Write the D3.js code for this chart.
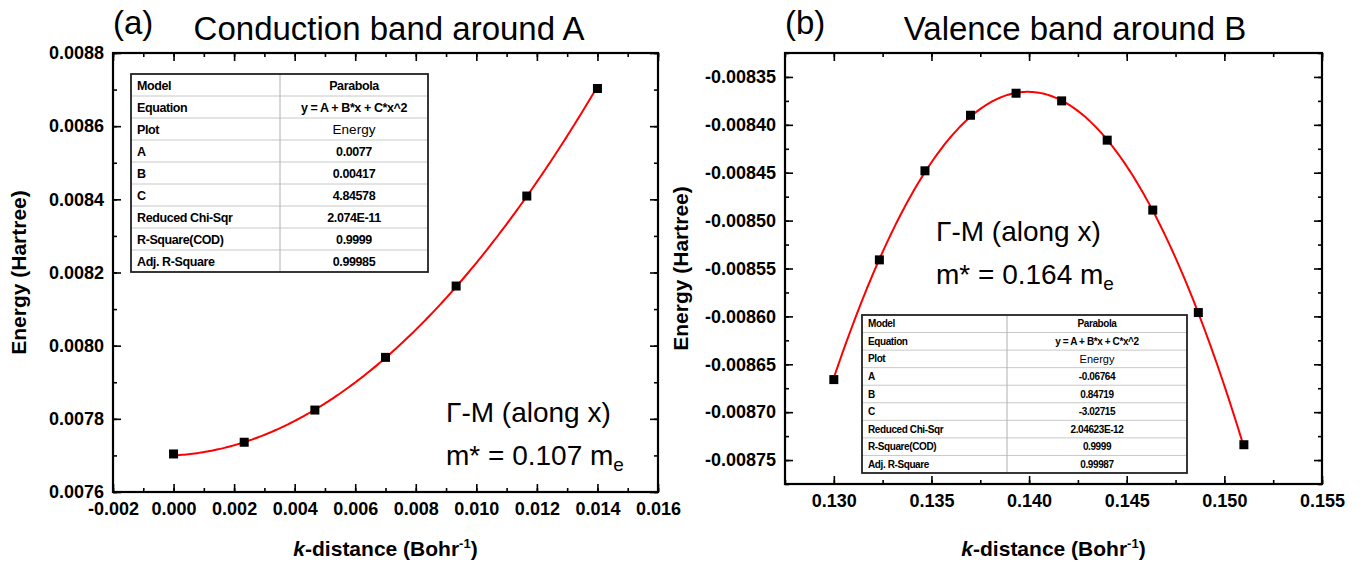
<!DOCTYPE html>
<html>
<head>
<meta charset="utf-8">
<script src="https://cdn.jsdelivr.net/npm/d3@7"></script>
<style>
  body { margin: 0; background: #fff; }
  svg { display: block; font-family: "Liberation Sans", Arial, sans-serif; }
</style>
</head>
<body>
<svg id="chart" width="1370" height="563"></svg>
<script>
// panel (a): conduction band around A
const kA = [0, 0.002333, 0.004667, 0.007, 0.009333, 0.011667, 0.014]
const energyA = [0.007704, 0.007736, 0.007824, 0.007968, 0.008163, 0.008409, 0.008703]
const fitA = [0.0077, 0.00417, 4.84578]
const xTicksA = [-0.002, 0, 0.002, 0.004, 0.006, 0.008, 0.01, 0.012, 0.014, 0.016]
const yTicksA = [0.0076, 0.0078, 0.008, 0.0082, 0.0084, 0.0086, 0.0088]
const tableA = ["Parabola", "y = A + B*x + C*x^2", "Energy", "0.0077", "0.00417", "4.84578", "2.074E-11", "0.9999", "0.99985"]

// panel (b): valence band around B
const kB = [0.13, 0.132333, 0.134667, 0.137, 0.139333, 0.141667, 0.144, 0.146333, 0.148667, 0.151]
const energyB = [-0.008666, -0.008541, -0.008448, -0.00839, -0.008367, -0.008375, -0.008416, -0.008489, -0.008596, -0.008734]
const fitB = [-0.06764, 0.84719, -3.02715]
const xTicksB = [0.13, 0.135, 0.14, 0.145, 0.15, 0.155]
const yTicksB = [-0.00875, -0.0087, -0.00865, -0.0086, -0.00855, -0.0085, -0.00845, -0.0084, -0.00835]
const tableB = ["Parabola", "y = A + B*x + C*x^2", "Energy", "-0.06764", "0.84719", "-3.02715", "2.04623E-12", "0.9999", "0.99987"]

const tableRows = ["Model", "Equation", "Plot", "A", "B", "C", "Reduced Chi-Sqr", "R-Square(COD)", "Adj. R-Square"]

const svg = d3.select("#chart")

function drawPanel(p) {
  const x = d3.scaleLinear().domain(p.xDomain).range([p.left, p.right])
  const y = d3.scaleLinear().domain(p.yDomain).range([p.bottom, p.top])
  const g = svg.append("g")

  // minor ticks on all four sides
  const minorX = d3.range(p.xDomain[0], p.xDomain[1] + 1e-9, p.xMinor)
  const minorY = d3.range(p.yDomain[0], p.yDomain[1] + 1e-12, p.yMinor)
  const sides = [
    [d3.axisBottom(x), `translate(0,${p.bottom})`, minorX],
    [d3.axisTop(x), `translate(0,${p.top})`, minorX],
    [d3.axisLeft(y), `translate(${p.left},0)`, minorY],
    [d3.axisRight(y), `translate(${p.right},0)`, minorY],
  ]
  sides.forEach(([ax, tr, minor]) => {
    g.append("g")
      .attr("transform", tr)
      .call(ax.tickValues(minor).tickSize(-4).tickSizeOuter(0).tickFormat(""))
      .call((s) => s.select(".domain").remove())
      .selectAll("line")
      .attr("stroke", "#000")
      .attr("stroke-width", 1.6)
  })

  // major ticks, labels on bottom/left only
  const xAxis = g
    .append("g")
    .attr("transform", `translate(0,${p.bottom})`)
    .call(d3.axisBottom(x).tickValues(p.xTicks).tickSize(-8).tickSizeOuter(0).tickPadding(10).tickFormat((d) => d.toFixed(3)))
  const yAxis = g
    .append("g")
    .attr("transform", `translate(${p.left},0)`)
    .call(d3.axisLeft(y).tickValues(p.yTicks).tickSize(-8).tickSizeOuter(0).tickPadding(9).tickFormat((d) => d.toFixed(p.yDigits)))
  g.append("g")
    .attr("transform", `translate(0,${p.top})`)
    .call(d3.axisTop(x).tickValues(p.xTicks).tickSize(-8).tickSizeOuter(0).tickFormat(""))
  g.append("g")
    .attr("transform", `translate(${p.right},0)`)
    .call(d3.axisRight(y).tickValues(p.yTicks).tickSize(-8).tickSizeOuter(0).tickFormat(""))
  g.selectAll(".domain").remove()
  g.selectAll(".tick line").attr("stroke", "#000").attr("stroke-width", 1.6)
  ;[xAxis, yAxis].forEach((a) =>
    a.selectAll("text").attr("fill", "#000").style("font-size", "18px").style("font-weight", "bold")
  )

  // frame
  g.append("rect")
    .attr("x", p.left)
    .attr("y", p.top)
    .attr("width", p.right - p.left)
    .attr("height", p.bottom - p.top)
    .attr("fill", "none")
    .attr("stroke", "#000")
    .attr("stroke-width", 2.2)

  // fitted parabola
  const [a, b, c] = p.fit
  const xs = d3.range(p.fitRange[0], p.fitRange[1] + 1e-9, (p.fitRange[1] - p.fitRange[0]) / 200)
  const line = d3
    .line()
    .x((d) => x(d))
    .y((d) => y(a + b * d + c * d * d))
  g.append("path")
    .attr("d", line(xs))
    .attr("fill", "none")
    .attr("stroke", "#ff0000")
    .attr("stroke-width", 2)

  // data squares
  g.selectAll(".pt")
    .data(p.xs)
    .enter()
    .append("rect")
    .attr("x", (d) => x(d) - 4.5)
    .attr("y", (d, i) => y(p.ys[i]) - 4.5)
    .attr("width", 9)
    .attr("height", 9)
    .attr("fill", "#000")

  // axis labels
  g.append("text")
    .attr("transform", `translate(${p.yLabelX},${(p.top + p.bottom) / 2}) rotate(-90)`)
    .attr("text-anchor", "middle")
    .style("font-size", "21px")
    .style("font-weight", "bold")
    .text("Energy (Hartree)")
  const xl = g
    .append("text")
    .attr("x", (p.left + p.right) / 2)
    .attr("y", 556)
    .attr("text-anchor", "middle")
    .style("font-size", "21px")
    .style("font-weight", "bold")
  xl.append("tspan").style("font-style", "italic").text("k")
  xl.append("tspan").text("-distance (Bohr")
  xl.append("tspan").attr("dy", -8).style("font-size", "13px").text("-1")
  xl.append("tspan").attr("dy", 8).text(")")

  // titles
  svg.append("text")
    .attr("x", p.left)
    .attr("y", 34)
    .style("font-size", "33px")
    .text(p.tag)
  svg.append("text")
    .attr("x", p.titleX)
    .attr("y", 40)
    .attr("text-anchor", "middle")
    .style("font-size", "33px")
    .text(p.title)

  // effective mass annotation
  const ann = svg.append("g").style("font-size", "28px")
  ann.append("text").attr("x", p.annX).attr("y", p.annY).text("\u0393-M (along x)")
  const m = ann.append("text").attr("x", p.annX).attr("y", p.annY + 43)
  m.append("tspan").text(p.mass + " m")
  m.append("tspan").attr("dy", 6).style("font-size", "19px").text("e")

  // fit parameter table
  const t = p.table
  const rowH = (t.bottom - t.top) / tableRows.length
  const tg = svg.append("g")
  tg.append("rect")
    .attr("x", t.left)
    .attr("y", t.top)
    .attr("width", t.right - t.left)
    .attr("height", t.bottom - t.top)
    .attr("fill", "#fff")
  tableRows.forEach((r, i) => {
    if (i > 0) {
      tg.append("line")
        .attr("x1", t.left)
        .attr("x2", t.right)
        .attr("y1", t.top + i * rowH)
        .attr("y2", t.top + i * rowH)
        .attr("stroke", "#c8c8c8")
        .attr("stroke-width", 1)
    }
    tg.append("text")
      .attr("x", t.left + 6)
      .attr("y", t.top + i * rowH + rowH / 2)
      .attr("dy", "0.36em")
      .style("font-size", t.font + "px")
      .style("font-weight", "bold")
      .style("letter-spacing", "-0.4px")
      .text(r)
    tg.append("text")
      .attr("x", (t.mid + t.right) / 2)
      .attr("y", t.top + i * rowH + rowH / 2)
      .attr("dy", "0.36em")
      .attr("text-anchor", "middle")
      .style("font-size", (i === 2 ? t.font + 1 : t.font) + "px")
      .style("font-weight", i === 2 ? "normal" : "bold")
      .style("letter-spacing", i === 2 ? "0px" : "-0.4px")
      .text(p.tableVals[i])
  })
  tg.append("line")
    .attr("x1", t.mid)
    .attr("x2", t.mid)
    .attr("y1", t.top)
    .attr("y2", t.bottom)
    .attr("stroke", "#b0b0b0")
  tg.append("rect")
    .attr("x", t.left)
    .attr("y", t.top)
    .attr("width", t.right - t.left)
    .attr("height", t.bottom - t.top)
    .attr("fill", "none")
    .attr("stroke", "#222")
    .attr("stroke-width", 1.8)
}

drawPanel({
  left: 113, right: 658, top: 53, bottom: 492,
  xDomain: [-0.002, 0.016], yDomain: [0.0076, 0.0088],
  xTicks: xTicksA, yTicks: yTicksA, xMinor: 0.001, yMinor: 0.0001, yDigits: 4,
  xs: kA, ys: energyA, fit: fitA, fitRange: [0, 0.014],
  yLabelX: 26, tag: "(a)", title: "Conduction band around A", titleX: 389,
  annX: 446, annY: 422, mass: "m* = 0.107",
  table: {left: 131, right: 428, mid: 280, top: 74, bottom: 272, font: 12.5},
  tableVals: tableA,
})

drawPanel({
  left: 785, right: 1322, top: 53, bottom: 484,
  xDomain: [0.1275, 0.155], yDomain: [-0.008775, -0.008325],
  xTicks: xTicksB, yTicks: yTicksB, xMinor: 0.0025, yMinor: 0.000025, yDigits: 5,
  xs: kB, ys: energyB, fit: fitB, fitRange: [0.13, 0.151],
  yLabelX: 688, tag: "(b)", title: "Valence band around B", titleX: 1075,
  annX: 936, annY: 241, mass: "m* = 0.164",
  table: {left: 862, right: 1187, mid: 1007, top: 315, bottom: 473, font: 10},
  tableVals: tableB,
})
</script>
</body>
</html>
